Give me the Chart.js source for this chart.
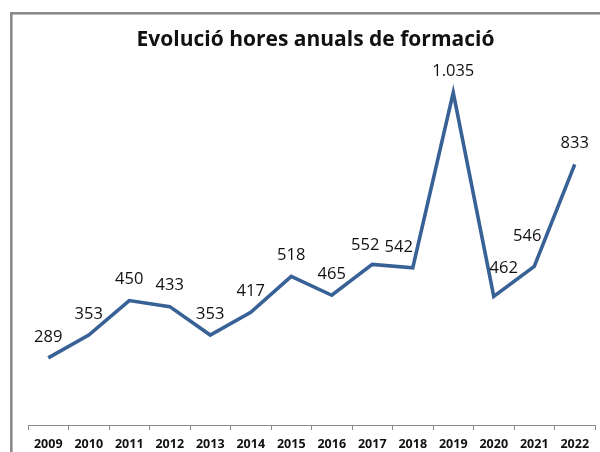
<!DOCTYPE html>
<html>
<head>
<meta charset="utf-8">
<script src="https://cdn.jsdelivr.net/npm/chart.js@4.4.1/dist/chart.umd.min.js"></script>
<style>
  html, body { margin: 0; padding: 0; background: #fff; }
  #wrap { position: relative; width: 600px; height: 452px; }
</style>
</head>
<body>
<div id="wrap"><canvas id="c" width="600" height="452"></canvas></div>
<script>
const years = ['2009','2010','2011','2012','2013','2014','2015','2016','2017','2018','2019','2020','2021','2022'];
const hours = [289, 353, 450, 433, 353, 417, 518, 465, 552, 542, 1035, 462, 546, 833];
const valueLabels = ['289','353','450','433','353','417','518','465','552','542','1.035','462','546','833'];
const chartTitle = 'Evolució hores anuals de formació';

// small nudges of individual value labels (relative to the default "above" spot)
const labelNudgeX = [0, 0, 0, 0, 0, 0, 0, 0, -7, -14, 0, 10, -7, 0];
const labelNudgeY = [0, 0, 0, 0, 0, 0, 0, 0, 2, 0, 0, -7, -9, 0];

const frame = {
  id: 'frame',
  afterLayout(chart) {
    // the source chart is a little wider than the window: its title sits slightly right of centre
    if (chart.titleBlock) { chart.titleBlock.left += 8; }
  },
  beforeDraw(chart) {
    const ctx = chart.ctx;
    ctx.save();
    ctx.fillStyle = '#ffffff';
    ctx.fillRect(0, 0, chart.width, chart.height);
    ctx.strokeStyle = '#8a8a8a';
    ctx.lineWidth = 2.6;
    ctx.strokeRect(11.3, 13.3, chart.width + 50, chart.height + 50);
    ctx.restore();
  }
};

const valueLabelPlugin = {
  id: 'valueLabels',
  afterDatasetsDraw(chart) {
    const ctx = chart.ctx;
    const meta = chart.getDatasetMeta(0);
    ctx.save();
    ctx.font = '16.5px "Open Sans", "DejaVu Sans", sans-serif';
    ctx.fillStyle = '#111111';
    ctx.textAlign = 'center';
    ctx.textBaseline = 'middle';
    meta.data.forEach((pt, i) => {
      ctx.fillText(valueLabels[i], pt.x + labelNudgeX[i], pt.y - 21 + labelNudgeY[i]);
    });
    ctx.restore();
  }
};

new Chart(document.getElementById('c'), {
  type: 'line',
  data: {
    labels: years,
    datasets: [{
      data: hours,
      borderColor: '#386195',
      borderWidth: 3.6,
      pointRadius: 0,
      pointHoverRadius: 0,
      tension: 0,
      fill: false
    }]
  },
  options: {
    responsive: false,
    animation: false,
    devicePixelRatio: 1,
    layout: { padding: { left: 28, right: 5, top: 0, bottom: 0 } },
    plugins: {
      legend: { display: false },
      tooltip: { enabled: false },
      title: {
        display: true,
        text: chartTitle,
        color: '#111111',
        font: { family: '"Open Sans", "DejaVu Sans", sans-serif', size: 21, weight: 'bold', lineHeight: 1.2 },
        padding: { top: 27.5, bottom: -18.7 }
      }
    },
    scales: {
      x: {
        offset: true,
        afterFit(scale) { scale.height = 27; },
        grid: {
          offset: true,
          drawOnChartArea: false,
          drawTicks: true,
          tickLength: 5,
          color: '#8a8a8a',
          lineWidth: 1
        },
        border: { display: true, color: '#8a8a8a', width: 1 },
        ticks: {
          color: '#111111',
          padding: 6.5,
          maxRotation: 0,
          autoSkip: false,
          font: { family: '"Open Sans", "DejaVu Sans", sans-serif', size: 12.5, weight: 'bold', lineHeight: 1.2 }
        }
      },
      y: {
        display: false,
        min: 100,
        max: 1200
      }
    }
  },
  plugins: [frame, valueLabelPlugin]
});
</script>
</body>
</html>
